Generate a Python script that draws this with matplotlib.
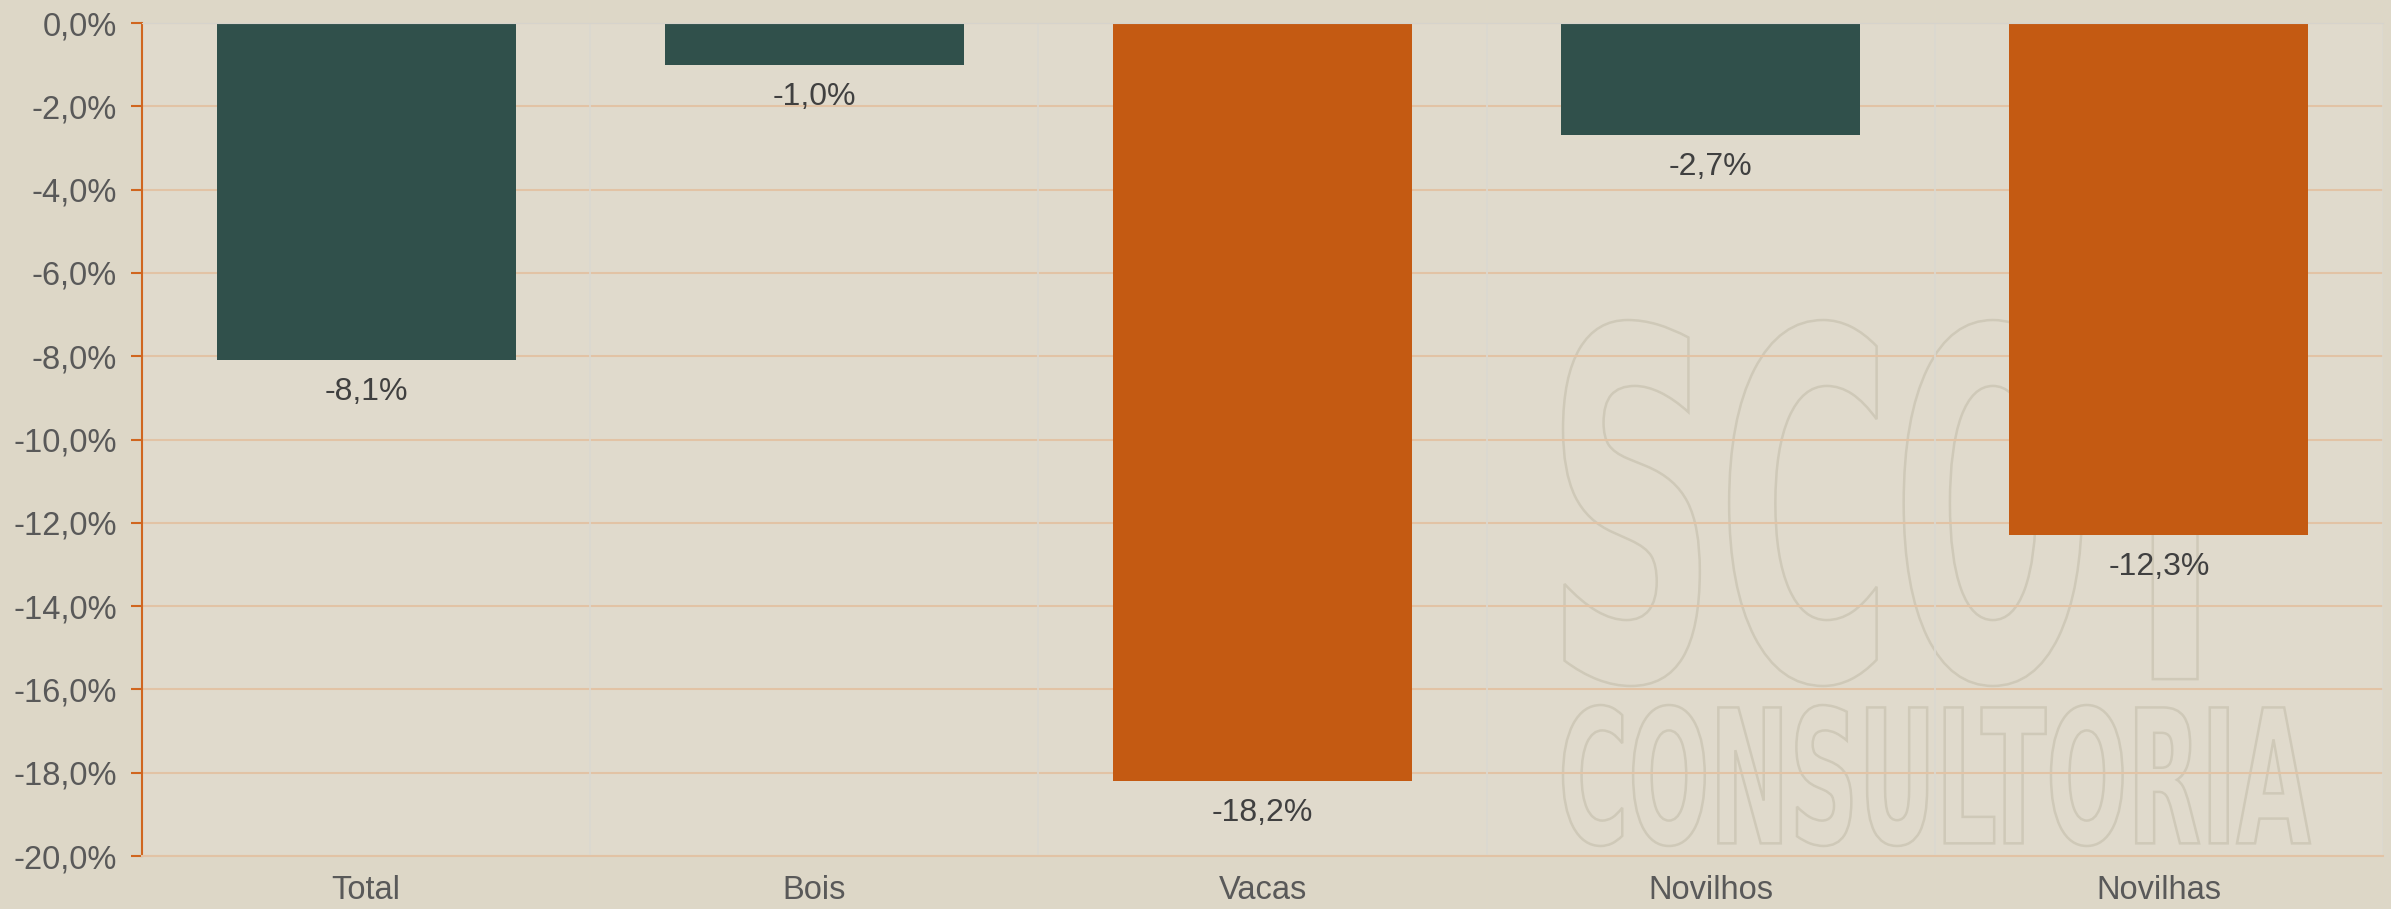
import matplotlib.pyplot as plt
from matplotlib.textpath import TextPath
from matplotlib.patches import PathPatch
from matplotlib.font_manager import FontProperties
from matplotlib.transforms import Affine2D

plt.rcParams['font.family'] = ['Liberation Sans', 'DejaVu Sans']

categories = ['Total', 'Bois', 'Vacas', 'Novilhos', 'Novilhas']
values = [-8.1, -1.0, -18.2, -2.7, -12.3]
bar_colors = ['#30504b', '#30504b', '#c45a12', '#30504b', '#c45a12']
yticks = list(range(-20, 1, 2))

bg = '#ddd7c7'
fig = plt.figure(figsize=(23.91, 9.09), dpi=100, facecolor=bg)
ax = fig.add_axes([142 / 2391, 1 - 856 / 909, (2383 - 142) / 2391, (856 - 23) / 909])
ax.set_facecolor('#e0dacc')


def watermark(text, x0, x1, y0, y1):
    tp = TextPath((0, 0), text, size=1, prop=FontProperties(family='DejaVu Sans', weight='bold'))
    ext = tp.get_extents()
    tr = (Affine2D().translate(-ext.x0, -ext.y0)
          .scale((x1 - x0) / ext.width, (y1 - y0) / ext.height)
          .translate(x0, y0) + fig.transFigure)
    ax.add_patch(PathPatch(tp, transform=tr, facecolor='none', edgecolor='#cfc9b8',
                           lw=1.8, zorder=0.5, clip_on=False))


watermark('SCOT', 1563 / 2391, 2255 / 2391, 1 - 686 / 909, 1 - 320 / 909)
watermark('CONSULTORIA', 1563 / 2391, 2310 / 2391, 1 - 846 / 909, 1 - 705 / 909)

x = range(len(categories))
ax.bar(x, values, width=0.667, color=bar_colors, zorder=2)

for i, v in enumerate(values):
    ax.annotate(f'{v:.1f}%'.replace('.', ','), (i, v), xytext=(0, -23),
                textcoords='offset points', ha='center', va='center',
                fontsize=23, color='#404040', zorder=3)

ax.set_xlim(-0.5, len(categories) - 0.5)
ax.set_ylim(-20, 0)
ax.set_yticks(yticks)
ax.set_yticklabels([f'{t:.1f}%'.replace('.', ',') for t in yticks])
ax.set_xticks(list(x))
ax.set_xticklabels(categories)

for b in [0.5, 1.5, 2.5, 3.5, 4.5]:
    ax.axvline(b, color='#dbd8d0', lw=1.2, zorder=1)
ax.grid(axis='y', color='#e2c3a5', lw=1.5, zorder=1)
ax.set_axisbelow(True)

ax.spines['left'].set_color('#d0661f')
ax.spines['left'].set_linewidth(1.5)
ax.spines['top'].set_color('#d6d3cc')
ax.spines['right'].set_visible(False)
ax.spines['bottom'].set_color('#e2c3a5')
ax.spines['bottom'].set_linewidth(1.5)

ax.tick_params(axis='y', colors='#d0661f', length=8, width=1.5, labelsize=23.5,
               labelcolor='#595959', pad=10)
ax.tick_params(axis='x', length=0, labelsize=23.5, labelcolor='#595959', pad=14)

fig.savefig('out.png', dpi=100, facecolor=bg)
